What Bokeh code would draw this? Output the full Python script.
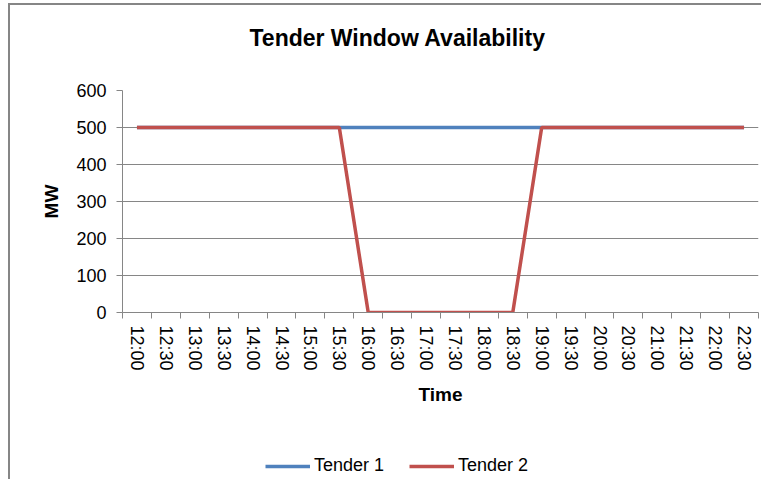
from bokeh.plotting import figure
from bokeh.models import Range1d, FixedTicker, Legend, LegendItem, Title
from bokeh.layouts import column
from bokeh.embed import file_html
from bokeh.resources import INLINE

# ---- data ----
times = ["12:00", "12:30", "13:00", "13:30", "14:00", "14:30", "15:00", "15:30",
         "16:00", "16:30", "17:00", "17:30", "18:00", "18:30", "19:00", "19:30",
         "20:00", "20:30", "21:00", "21:30", "22:00", "22:30"]
tender1 = [500, 500, 500, 500, 500, 500, 500, 500, 500, 500, 500,
           500, 500, 500, 500, 500, 500, 500, 500, 500, 500, 500]
tender2 = [500, 500, 500, 500, 500, 500, 500, 500, 0, 0, 0,
           0, 0, 0, 500, 500, 500, 500, 500, 500, 500, 500]
y_ticks = [0, 100, 200, 300, 400, 500, 600]

FONT = "Liberation Sans"
GRID = "#868686"
BLUE = "#4F81BD"
RED = "#C0504D"

n = len(times)
xs = [i + 0.5 for i in range(n)]

W = 761
H_MAIN = 430
H_LEG = 49

p = figure(width=W, height=H_MAIN, output_backend="svg", toolbar_location=None,
           x_range=Range1d(0, n), y_range=Range1d(0, 600),
           min_border_left=122, min_border_right=3, min_border_top=90,
           min_border_bottom=H_MAIN - 312)
p.title.visible = False
p.border_fill_color = None
p.background_fill_color = "white"

# spacer panel between title and frame, then the real title above it
spacer = Title(text=" ", text_font_size="1px", standoff=37)
p.add_layout(spacer, "above")
title = Title(text="Tender Window Availability", align="left", offset=127,
              standoff=0, vertical_align="bottom",
              text_font=FONT, text_font_size="23px", text_font_style="bold",
              text_color="black")
p.add_layout(title, "above")

p.outline_line_color = None
p.xgrid.grid_line_color = None
p.ygrid.grid_line_color = GRID
p.ygrid.grid_line_width = 1
p.ygrid.ticker = FixedTicker(ticks=y_ticks)

# y axis
p.yaxis.ticker = FixedTicker(ticks=y_ticks)
p.yaxis.axis_line_color = GRID
p.yaxis.major_tick_line_color = GRID
p.yaxis.major_tick_out = 6
p.yaxis.major_tick_in = 0
p.yaxis.minor_tick_line_color = None
p.yaxis.major_label_text_font = FONT
p.yaxis.major_label_text_font_size = "18px"
p.yaxis.major_label_text_color = "black"
p.yaxis.major_label_standoff = 10
p.yaxis.axis_label = "MW"
p.yaxis.axis_label_text_font = FONT
p.yaxis.axis_label_text_font_size = "19px"
p.yaxis.axis_label_text_font_style = "bold"
p.yaxis.axis_label_text_color = "black"
p.yaxis.axis_label_standoff = 11

# x axis: labels at category centres, ticks at boundaries
p.xaxis.ticker = FixedTicker(ticks=xs, minor_ticks=list(range(n + 1)))
p.xaxis.major_label_overrides = {x: t for x, t in zip(xs, times)}
p.xaxis.major_label_orientation = "vertical"
p.xaxis.axis_line_color = GRID
p.xaxis.major_tick_line_color = None
p.xaxis.minor_tick_line_color = GRID
p.xaxis.minor_tick_out = 6
p.xaxis.minor_tick_in = 0
p.xaxis.major_label_text_font = FONT
p.xaxis.major_label_text_font_size = "18px"
p.xaxis.major_label_text_color = "black"
p.xaxis.major_label_standoff = 7
p.xaxis.axis_label = "Time"
p.xaxis.axis_label_text_font = FONT
p.xaxis.axis_label_text_font_size = "19px"
p.xaxis.axis_label_text_font_style = "bold"
p.xaxis.axis_label_text_color = "black"
p.xaxis.axis_label_standoff = 10

p.line(xs, tender1, line_color=BLUE, line_width=3.5)
p.line(xs, tender2, line_color=RED, line_width=3.5)

# legend strip below the chart (same series, drawn off-range so only the key shows)
lf = figure(width=W, height=H_LEG, output_backend="svg", toolbar_location=None,
            x_range=Range1d(-10, -9), y_range=Range1d(0, 600),
            x_axis_location=None, y_axis_location=None,
            min_border_left=0, min_border_right=0, min_border_top=0,
            min_border_bottom=0)
lf.title.visible = False
lf.border_fill_color = None
lf.background_fill_color = None
lf.outline_line_color = None
lf.grid.visible = False
l1 = lf.line(xs, tender1, line_color=BLUE, line_width=3.5)
l2 = lf.line(xs, tender2, line_color=RED, line_width=3.5)
legend = Legend(items=[LegendItem(label="Tender 1", renderers=[l1]),
                       LegendItem(label="Tender 2", renderers=[l2])],
                orientation="horizontal", location=(143, 3),
                glyph_width=45, glyph_height=20, label_standoff=4, spacing=25,
                padding=0, margin=0, border_line_color=None,
                background_fill_alpha=0,
                label_text_font=FONT, label_text_font_size="18px",
                label_text_color="black")
lf.add_layout(legend, "center")

layout = column(p, lf, spacing=0)
layout.styles = {"background": "linear-gradient(#868686, #868686) 8px 3px / 2px 100% no-repeat, "
                               "linear-gradient(#868686, #868686) 8px 3px / 100% 2px no-repeat, #ffffff"}

open("out.html", "w").write(file_html(layout, INLINE))
